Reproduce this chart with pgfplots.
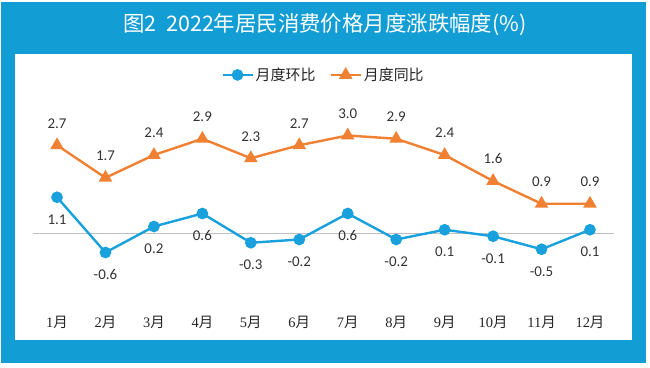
\documentclass[border=0pt]{standalone}
\usepackage{fontspec}
\setmainfont{Carlito}
\newfontfamily\cjk{Noto Sans CJK SC}
\newfontfamily\dig{Liberation Serif}
\usepackage{pgfplots}
\pgfplotsset{compat=1.18}
\definecolor{frame}{RGB}{18,158,212}
\definecolor{cblue}{RGB}{24,161,220}
\definecolor{corange}{RGB}{240,128,50}
\newcommand\m[1]{{\dig #1}{\cjk 月}}
\begin{document}
\begin{tikzpicture}[x=1bp,y=1bp]
\fill[white] (0,0) rectangle (650,367);
\fill[frame] (1,4) rectangle (646,365);
\fill[white] (15,27) rectangle (632,313);
\node[white, font=\cjk\fontsize{21.5}{24}\selectfont] at (325,342) {图2\ \ 2022年居民消费价格月度涨跌幅度(\%)};
\begin{axis}[at={(32.8bp,69bp)}, anchor=south west, scale only axis,
  width=581.4bp, height=195bp,
  xmin=0.5, xmax=12.5, ymin=-2, ymax=4,
  axis line style={draw=none}, ytick=\empty,
  xtick={1,...,12},
  xticklabels={\m{1},\m{2},\m{3},\m{4},\m{5},\m{6},\m{7},\m{8},\m{9},\m{10},\m{11},\m{12}},
  major tick length=0pt,
  xticklabel style={font=\fontsize{14.5}{16}\selectfont, text=black!85, yshift=-15bp},
  point meta=explicit symbolic,
  legend style={draw=none, fill=none, at={(axis description cs:0.5,1.144)}, anchor=center,
    legend columns=2, font=\cjk\fontsize{15}{17}\selectfont, text=black!85,
    /tikz/every even column/.append style={column sep=12bp}},
  legend image code/.code={\draw[mark repeat=2,mark phase=2,#1] plot coordinates {(0bp,0bp) (15bp,0bp) (30bp,0bp)};},
  clip=false,
]
\draw[black!25, line width=0.8bp] (axis cs:0.5,0) -- (axis cs:12.5,0);
\addplot[cblue, line width=2.4bp, mark=*, mark size=4.6bp,
  nodes near coords, every node near coord/.append style={anchor=center, yshift=-22bp, font=\fontsize{15}{15}\selectfont, text=black!80}]
  coordinates {(1,1.1)[1.1] (2,-0.6)[-0.6] (3,0.2)[0.2] (4,0.6)[0.6] (5,-0.3)[-0.3] (6,-0.2)[-0.2]
   (7,0.6)[0.6] (8,-0.2)[-0.2] (9,0.1)[0.1] (10,-0.1)[-0.1] (11,-0.5)[-0.5] (12,0.1)[0.1]};
\addlegendentry{月度环比}
\addplot[corange, line width=2.4bp, mark=triangle*, mark size=5.5bp,
  nodes near coords, every node near coord/.append style={anchor=center, yshift=22bp, font=\fontsize{15}{15}\selectfont, text=black!80}]
  coordinates {(1,2.7)[2.7] (2,1.7)[1.7] (3,2.4)[2.4] (4,2.9)[2.9] (5,2.3)[2.3] (6,2.7)[2.7]
   (7,3.0)[3.0] (8,2.9)[2.9] (9,2.4)[2.4] (10,1.6)[1.6] (11,0.9)[0.9] (12,0.9)[0.9]};
\addlegendentry{月度同比}
\end{axis}
\end{tikzpicture}
\end{document}
